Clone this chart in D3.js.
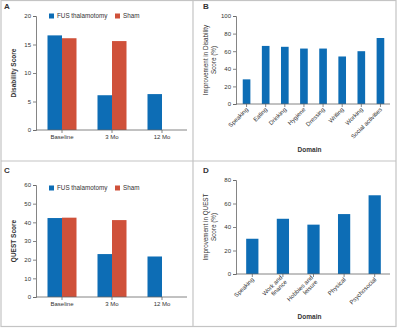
<!DOCTYPE html>
<html>
<head>
<meta charset="utf-8">
<script src="https://cdn.jsdelivr.net/npm/d3@7"></script>
<style>
  body { margin: 0; background: #fff; }
  svg { display: block; font-family: "Liberation Sans", Arial, sans-serif; }
  .axis path, .axis line { stroke: #666; stroke-width: 0.8; }
  .axis text { fill: #333; font-size: 6px; }
</style>
</head>
<body>
<div id="chart"></div>
<script>
// Data
const timepoints = ['Baseline', '3 Mo', '12 Mo'];
const seriesNames = ['FUS thalamotomy', 'Sham'];
const disabilityFus = [16.6, 6.1, 6.3];
const disabilitySham = [16.1, 15.6, null];
const questFus = [42.3, 23.0, 21.7];
const questSham = [42.5, 41.2, null];

const disabilityDomains = ['Speaking', 'Eating', 'Drinking', 'Hygiene', 'Dressing', 'Writing', 'Working', 'Social activities'];
const disabilityImprovement = [28, 66, 65, 63, 63, 54, 60, 75];
const questDomains = [['Speaking'], ['Work and', 'finance'], ['Hobbies and', 'leisure'], ['Physical'], ['Psychosocial']];
const questImprovement = [30, 47, 42, 51, 67];

const width = 401;
const height = 328;
const blue = '#0d6db5';
const red = '#cf513a';

const svg = d3.select('#chart')
    .append('svg')
    .attr('width', width)
    .attr('height', height);

// Frame and panel dividers
const frame = svg.append('g').attr('stroke', '#c4c4c4').attr('stroke-width', 1.2).attr('fill', 'none');
frame.append('rect').attr('x', 1).attr('y', 0.5).attr('width', 395).attr('height', 326);
frame.append('line').attr('x1', 193).attr('x2', 193).attr('y1', 0).attr('y2', 327);
frame.append('line').attr('x1', 1).attr('x2', 396).attr('y1', 161).attr('y2', 161);

// Grouped bar panel (A and C)
function groupedPanel(ox, oy, label, yMax, yStep, fus, sham, yTitle, plotTop, plotBottom, legendY) {
    const g = svg.append('g').attr('transform', `translate(${ox},${oy})`);
    g.append('text').attr('x', 4).attr('y', 9).text(label)
        .attr('font-size', 8).attr('font-weight', 'bold').attr('fill', '#333');

    const x = d3.scaleBand().domain(timepoints).range([37, 187]).paddingInner(0.42).paddingOuter(0.21);
    const y = d3.scaleLinear().domain([0, yMax]).range([plotBottom, plotTop]);

    const inner = d3.scaleBand().domain(seriesNames).range([0, x.bandwidth()]);
    const rows = timepoints.map((t, i) => ({ t, vals: [fus[i], sham[i]] }));

    g.selectAll('.grp').data(rows).enter().append('g')
        .attr('transform', d => `translate(${x(d.t)},0)`)
        .selectAll('rect')
        .data(d => d.vals.map((v, j) => ({ v, s: seriesNames[j] })).filter(e => e.v != null))
        .enter().append('rect')
        .attr('x', e => inner(e.s))
        .attr('width', inner.bandwidth())
        .attr('y', e => y(e.v))
        .attr('height', e => y(0) - y(e.v))
        .attr('fill', e => e.s === 'Sham' ? red : blue);

    g.append('g').attr('class', 'axis').attr('transform', 'translate(36,0)')
        .call(d3.axisLeft(y).ticks(yMax / yStep).tickSize(3).tickPadding(2));
    g.append('g').attr('class', 'axis').attr('transform', `translate(0,${plotBottom})`)
        .call(d3.axisBottom(x).tickSize(3).tickPadding(2))
        .call(a => a.select('.domain').attr('d', `M36,0H187`));

    g.append('text')
        .attr('transform', `translate(16,${(plotTop + plotBottom) / 2}) rotate(-90)`)
        .attr('text-anchor', 'middle').attr('font-size', 6.5).attr('font-weight', 'bold').attr('fill', '#333')
        .text(yTitle);

    // Legend
    const leg = g.append('g').attr('transform', `translate(49,${legendY})`);
    const legX = [0, 66];
    seriesNames.forEach((s, i) => {
        leg.append('rect').attr('x', legX[i]).attr('y', -2.5).attr('width', 5).attr('height', 5)
            .attr('fill', i ? red : blue);
        leg.append('text').attr('x', legX[i] + 8).attr('y', 2.2).attr('font-size', 6.3).attr('fill', '#333').text(s);
    });
}

// Domain bar panel (B and D)
function domainPanel(ox, oy, label, domains, values, yMax, yStep, titleLines, plotTop, plotBottom, xEnd, pad, domainY) {
    const g = svg.append('g').attr('transform', `translate(${ox},${oy})`);
    g.append('text').attr('x', 3).attr('y', 9).text(label)
        .attr('font-size', 8).attr('font-weight', 'bold').attr('fill', '#333');

    const keys = domains.map(d => Array.isArray(d) ? d.join(' ') : d);
    const x = d3.scaleBand().domain(keys).range([37, xEnd]).paddingInner(pad).paddingOuter(pad / 2);
    const y = d3.scaleLinear().domain([0, yMax]).range([plotBottom, plotTop]);

    g.selectAll('.bar').data(values).enter().append('rect')
        .attr('x', (d, i) => x(keys[i]))
        .attr('width', x.bandwidth())
        .attr('y', d => y(d))
        .attr('height', d => y(0) - y(d))
        .attr('fill', blue);

    g.append('g').attr('class', 'axis').attr('transform', 'translate(36,0)')
        .call(d3.axisLeft(y).ticks(yMax / yStep).tickSize(3).tickPadding(2));
    const xa = g.append('g').attr('class', 'axis').attr('transform', `translate(0,${plotBottom})`)
        .call(d3.axisBottom(x).tickSize(3).tickFormat(''))
        .call(a => a.select('.domain').attr('d', `M36,0H${xEnd}`));

    // Rotated category labels
    xa.selectAll('.tick').each(function (k, i) {
        const lines = Array.isArray(domains[i]) ? domains[i] : [domains[i]];
        const t = d3.select(this).append('text')
            .attr('transform', 'translate(2,6) rotate(-45)')
            .attr('text-anchor', 'end').attr('fill', '#333').attr('font-size', 6);
        lines.forEach((ln, j) => {
            t.append('tspan').attr('x', 0).attr('dy', j === 0 ? (lines.length > 1 ? -3 : 0) : 6.5).text(ln);
        });
    });

    titleLines.forEach((ln, i) => {
        g.append('text')
            .attr('transform', `translate(${8 + i * 7.5},${(plotTop + plotBottom) / 2}) rotate(-90)`)
            .attr('text-anchor', 'middle').attr('font-size', 6.3).attr('fill', '#333').text(ln);
    });

    g.append('text').attr('x', (37 + xEnd) / 2 - 4).attr('y', domainY)
        .attr('text-anchor', 'middle').attr('font-size', 6.5).attr('font-weight', 'bold').attr('fill', '#333')
        .text('Domain');
}

groupedPanel(0, 0, 'A', 20, 5, disabilityFus, disabilitySham, 'Disability Score', 16, 130, 16);
groupedPanel(0, 164, 'C', 60, 10, questFus, questSham, 'QUEST Score', 21, 133, 24);
domainPanel(200, 0, 'B', disabilityDomains, disabilityImprovement, 100, 20,
    ['Improvement in Disability', 'Score (%)'], 16, 104, 190, 0.6, 152);
domainPanel(200, 164, 'D', questDomains, questImprovement, 80, 20,
    ['Improvement in QUEST', 'Score (%)'], 16, 110, 190, 0.6, 155);
</script>
</body>
</html>
